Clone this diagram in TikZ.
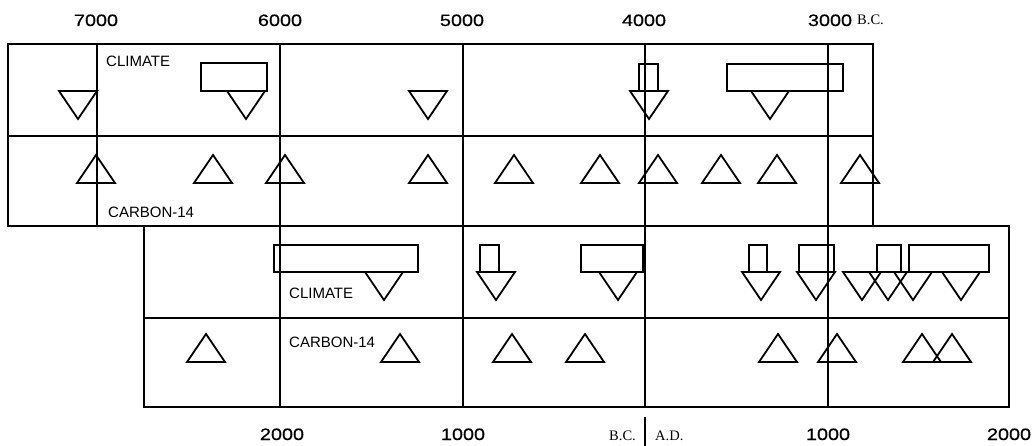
\documentclass[tikz,border=0pt]{standalone}
\usepackage{fontspec}
\setmainfont{Liberation Sans}
\newfontfamily\numfont[FakeStretch=1.2,FakeBold=0.6]{Liberation Sans}
\newfontfamily\serfont{Liberation Serif}
\begin{document}
\begin{tikzpicture}[x=1pt,y=-1pt,
  frame/.style={line width=2.3pt},
  gridline/.style={line width=1.2pt},
  sym/.style={line width=1.8pt, line join=miter},
  num/.style={anchor=base, inner sep=0pt, font=\numfont\fontsize{16.5}{18}\selectfont},
  era/.style={inner sep=0pt, font=\serfont\fontsize{14.5}{16}\selectfont},
  rowlabel/.style={anchor=base west, inner sep=0pt, font=\fontsize{15}{17}\selectfont},
  dtri/.pic={\draw[sym] (-19,0) -- (19,0) -- (0,28) -- cycle;},
  utri/.pic={\draw[sym] (-19,0) -- (19,0) -- (0,-28) -- cycle;}
]
\useasboundingbox (0,0) rectangle (1036,446);

% ---------- grid ----------
% top panel
\draw[gridline] (8,136) -- (873,136);
\draw[gridline] (97,44) -- (97,226);
% bottom panel
\draw[gridline] (144,318) -- (1009,318);
% shared century lines
\foreach \x in {280,463,645,828} \draw[gridline] (\x,44) -- (\x,407);
% frames
\draw[frame] (8,44) rectangle (873,226);
\draw[frame] (144,226) rectangle (1009,407);

% ---------- top axis labels ----------
\node[num] (t7000) at (96,26) {7000};
\node[num] (t6000) at (280,26) {6000};
\node[num] (t5000) at (462,26) {5000};
\node[num] (t4000) at (644,26) {4000};
\node[num] (t3000) at (830,26) {3000};
\node[era, anchor=base west] (tbc) at (857,25) {B.C.};

% ---------- bottom axis labels ----------
\node[num] (b2000) at (282,440) {2000};
\node[num] (b1000) at (463,440) {1000};
\node[era, anchor=base east] (bbc) at (636,440) {B.C.};
\node[era, anchor=base west] (bad) at (655,440) {A.D.};
\draw[line width=1.8pt] (645,417) -- (645,446);
\node[num] (a1000) at (828,440) {1000};
\node[num] (a2000) at (1009,440) {2000};

% ---------- row labels ----------
\node[rowlabel] (clim1) at (106,67) {CLIMATE};
\node[rowlabel] (carb1) at (108,218) {CARBON-14};
\node[rowlabel] (clim2) at (289,299) {CLIMATE};
\node[rowlabel] (carb2) at (289,348) {CARBON-14};

% ---------- top panel: climate ----------
\pic (tc1) at (78,91) {dtri};
\draw[sym] (201,63) rectangle (267,91);
\pic (tc2) at (246,91) {dtri};
\pic (tc3) at (428,91) {dtri};
\draw[sym] (639,64) rectangle (658,91);
\pic (tc4) at (649,91) {dtri};
\draw[sym] (727,64) rectangle (843,91);
\pic (tc5) at (770,91) {dtri};

% ---------- top panel: carbon-14 ----------
\foreach \x [count=\i] in {96,213,285,428,514,600,658,721,777,860}
  \pic (tk\i) at (\x,183) {utri};

% ---------- bottom panel: climate ----------
\draw[sym] (274,245) rectangle (418,272);
\pic (bc1) at (384,272) {dtri};
\draw[sym] (480,245) rectangle (499,272);
\pic (bc2) at (496,272) {dtri};
\draw[sym] (581,245) rectangle (643,272);
\pic (bc3) at (618,272) {dtri};
\draw[sym] (749,245) rectangle (767,272);
\pic (bc4) at (761,272) {dtri};
\draw[sym] (799,245) rectangle (834,272);
\pic (bc5) at (816,272) {dtri};
\draw[sym] (877,245) rectangle (901,272);
\draw[sym] (909,245) rectangle (989,272);
\pic (bc6) at (862,272) {dtri};
\pic (bc7) at (888,272) {dtri};
\pic (bc8) at (913,272) {dtri};
\pic (bc9) at (961,272) {dtri};

% ---------- bottom panel: carbon-14 ----------
\foreach \x [count=\i] in {206,400,512,585,778,837,922,952}
  \pic (bk\i) at (\x,362) {utri};
\end{tikzpicture}
\end{document}
